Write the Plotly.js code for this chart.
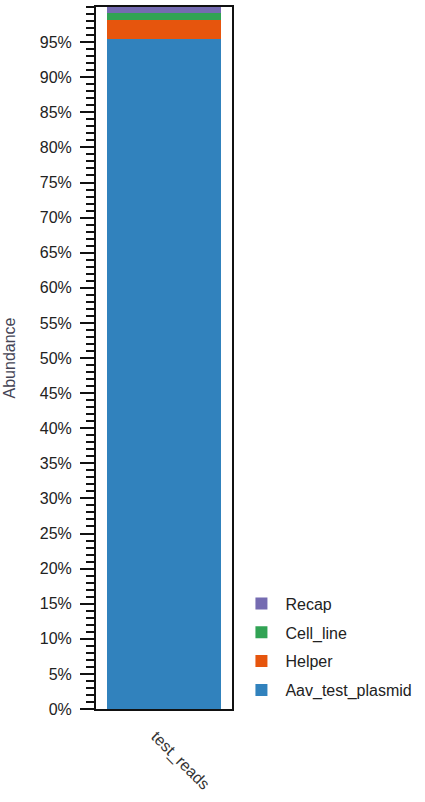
<!DOCTYPE html>
<html><head><meta charset="utf-8">
<script src="https://cdn.plot.ly/plotly-3.0.1.min.js"></script>
<style>html,body{margin:0;padding:0;background:#fff}#chart{width:425px;height:802px}</style>
</head><body><div id="chart"></div>
<script>
const samples = ['test_reads'];
const seriesNames = ['Aav_test_plasmid', 'Helper', 'Cell_line', 'Recap'];
const aavValues = [95.5];
const helperValues = [2.6];
const cellLineValues = [1.0];
const recapValues = [0.9];
const seriesColors = ['#3182bd', '#e6550d', '#31a354', '#756bb1'];
const yTickVals = [0,5,10,15,20,25,30,35,40,45,50,55,60,65,70,75,80,85,90,95];

const allValues = [aavValues, helperValues, cellLineValues, recapValues];
const traces = seriesNames.map((n, i) => ({
  type: 'bar', name: n, x: samples, y: allValues[i],
  marker: {color: seriesColors[i]}, legendgroup: n, legendrank: 10 - i, hoverinfo: 'name+y'
}));

const layout = {
  width: 425, height: 802,
  margin: {l: 96, r: 193, t: 7, b: 93},
  barmode: 'stack', bargap: 0.16,
  paper_bgcolor: '#fff', plot_bgcolor: '#fff',
  font: {family: 'Liberation Sans, Arial, sans-serif', size: 16, color: '#222'},
  showlegend: true,
  legend: {traceorder: 'grouped', tracegroupgap: 5, itemwidth: 38, x: 1.04, xanchor: 'left', y: 0.002, yanchor: 'bottom',
           font: {size: 16, color: '#222'}, bgcolor: 'rgba(0,0,0,0)'},
  xaxis: {showline: true, mirror: true, linecolor: '#111', linewidth: 2, ticks: '', tickangle: 45,
          ticklabelstandoff: 10, ticklabelshift: -8,
          showgrid: false, zeroline: false, tickfont: {size: 16, color: '#333'}},
  yaxis: {range: [0, 100], tickvals: yTickVals, ticktext: yTickVals.map(v => v + '%'),
          ticks: 'outside', ticklen: 14, tickwidth: 2, tickcolor: '#111', ticklabelstandoff: 5,
          minor: {dtick: 1, ticks: 'outside', ticklen: 8, tickwidth: 2, tickcolor: '#111', showgrid: false},
          showline: true, mirror: true, linecolor: '#111', linewidth: 2, showgrid: false, zeroline: false,
          title: {text: 'Abundance', standoff: 20, font: {size: 16, color: '#445'}}, tickfont: {size: 16, color: '#222'}}
};
Plotly.newPlot('chart', traces, layout, {displayModeBar: false, staticPlot: true});
</script></body></html>
